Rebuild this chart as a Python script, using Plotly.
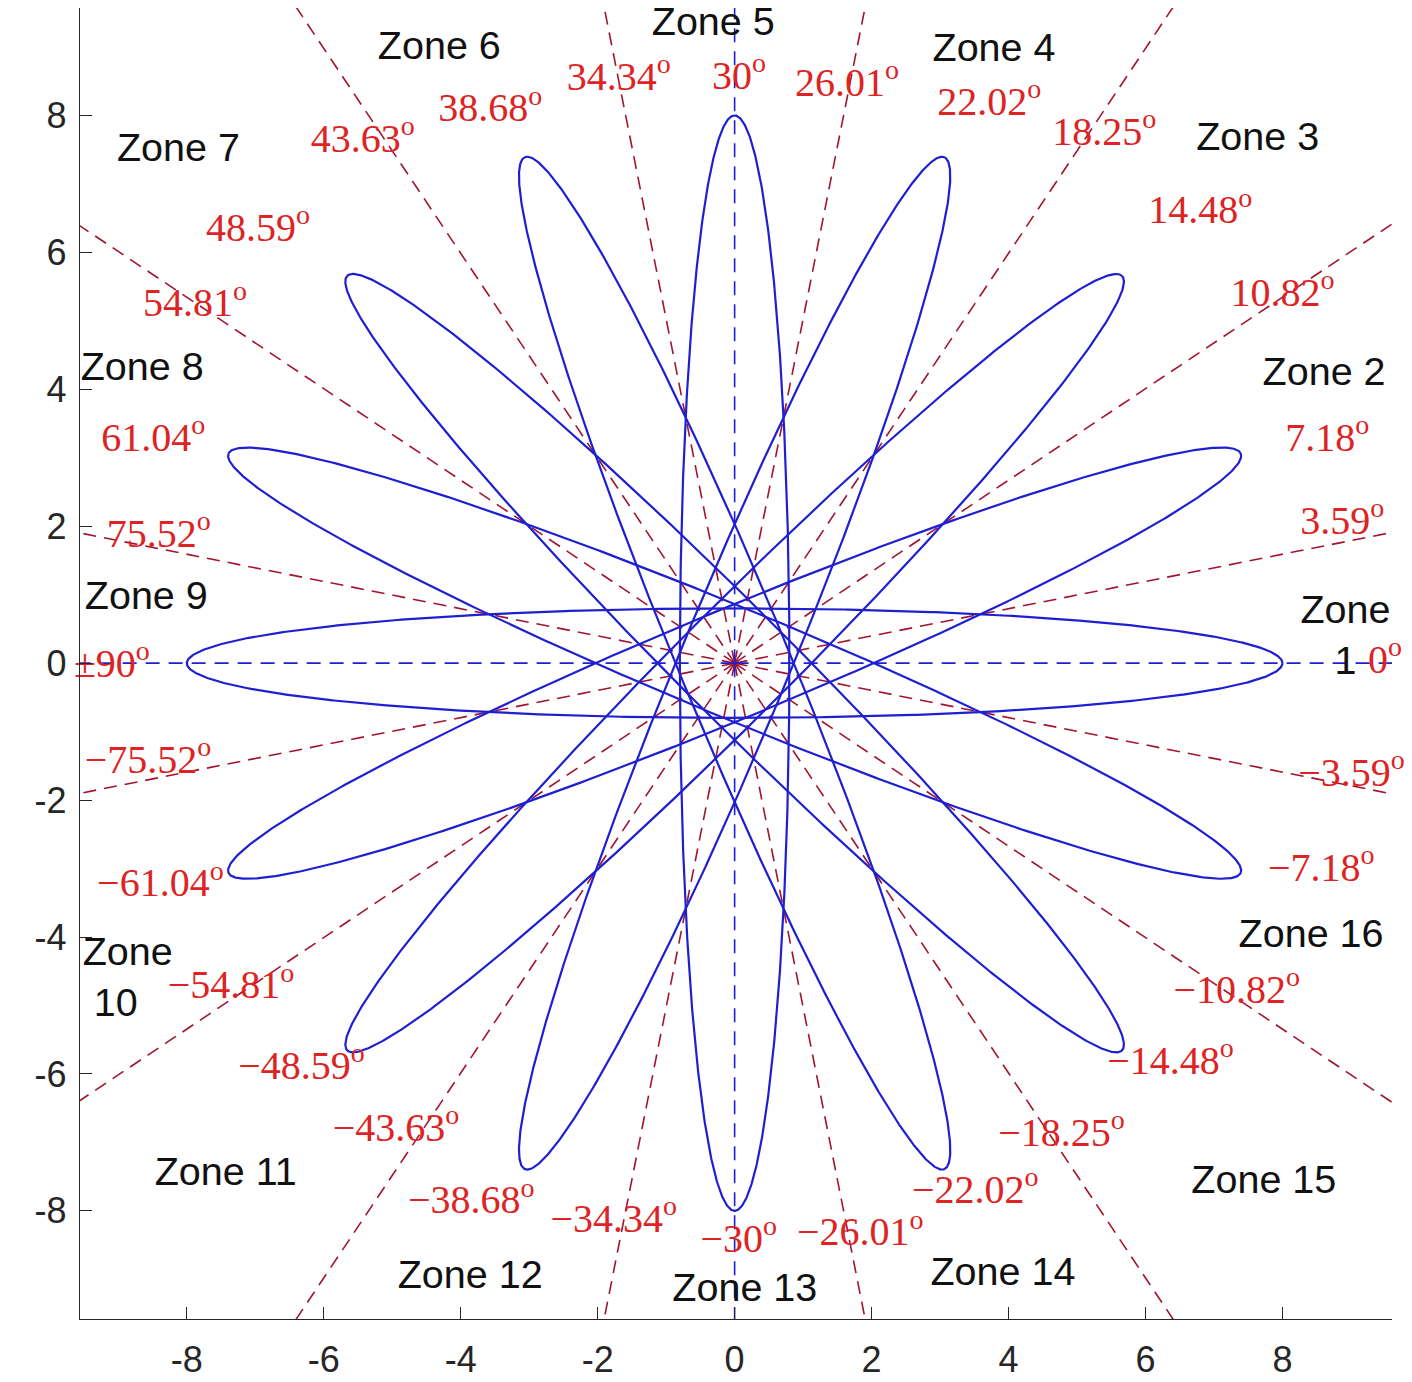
import numpy as np
import plotly.graph_objects as go

# ---------------- data ----------------
ellipse_semi_major = 8.0
ellipse_semi_minor = 0.8
ellipse_angles_deg = [0, 22.5, 45, 67.5, 90, 112.5, 135, 157.5]

boundary_angles_deg = [11.25, 33.75, 56.25, 78.75, 101.25, 123.75, 146.25, 168.75,
                       191.25, 213.75, 236.25, 258.75, 281.25, 303.75, 326.25, 348.75]
axis_ray_angles_deg = [0, 90, 180, 270]
ray_length = 14

zone_text = ["Zone 5", "Zone 4", "Zone 3", "Zone 2", "Zone<br>1", "Zone 16", "Zone 15", "Zone 14",
             "Zone 13", "Zone 12", "Zone 11", "Zone<br>\u00a010", "Zone 9", "Zone 8", "Zone 7", "Zone 6"]
zone_x = [-1.21, 2.89, 6.74, 7.71, 8.92, 7.36, 6.67, 2.86, -0.91, -4.92, -8.47, -9.52, -9.49, -9.55, -9.02, -5.21]
zone_y = [9.32, 8.94, 7.64, 4.21, 0.36, -4.00, -7.60, -8.94, -9.18, -8.99, -7.48, -4.64, 0.93, 4.28, 7.48, 8.97]
zone_pos = ["middle right"] * 4 + ["middle center"] + ["middle right"] * 11

angle_text = ["0", "3.59", "7.18", "10.82", "14.48", "18.25", "22.02", "26.01", "30", "34.34",
              "38.68", "43.63", "48.59", "54.81", "61.04", "75.52", "\u00b190",
              "\u22123.59", "\u22127.18", "\u221210.82", "\u221214.48", "\u221218.25", "\u221222.02",
              "\u221226.01", "\u221230", "\u221234.34", "\u221238.68", "\u221243.63", "\u221248.59",
              "\u221254.81", "\u221261.04", "\u221275.52"]
angle_x = [9.25, 8.26, 8.04, 7.24, 6.04, 4.64, 2.96, 0.88, -0.33, -2.45,
           -4.33, -6.19, -7.72, -8.64, -9.25, -9.17, -8.54,
           8.23, 7.79, 6.41, 5.44, 3.85, 2.59,
           0.91, -0.50, -2.69, -4.77, -5.87, -7.25,
           -8.28, -9.31, -9.49]
angle_y = [0.00, 2.04, 3.25, 5.36, 6.57, 7.72, 8.16, 8.43, 8.54, 8.52,
           8.06, 7.62, 6.31, 5.21, 3.25, 1.85, -0.05,
           -1.65, -3.04, -4.82, -5.85, -6.90, -7.74,
           -8.36, -8.45, -8.16, -7.89, -6.83, -5.93,
           -4.75, -3.26, -1.46]
angle_pos = ["middle right"] * 16 + ["middle left"] + ["middle right"] * 15

tick_values = [-8, -6, -4, -2, 0, 2, 4, 6, 8]
tick_labels = ["-8", "-6", "-4", "-2", "0", "2", "4", "6", "8"]

# ---------------- styles ----------------
BLUE = "#1f1fd2"
DARKRED = "#A2142F"
LABEL_RED = "#dd2323"
AXIS = "#262626"

fig = go.Figure()

# red dashed zone boundary rays
for a in boundary_angles_deg:
    th = np.deg2rad(a)
    fig.add_trace(go.Scatter(x=[0, ray_length * np.cos(th)], y=[0, ray_length * np.sin(th)],
                             mode="lines", line=dict(color=DARKRED, width=1.6, dash="13px,8px"),
                             hoverinfo="skip"))

# blue dashed axis rays
for a in axis_ray_angles_deg:
    th = np.deg2rad(a)
    fig.add_trace(go.Scatter(x=[0, ray_length * np.cos(th)], y=[0, ray_length * np.sin(th)],
                             mode="lines", line=dict(color=BLUE, width=1.6, dash="14px,9px"),
                             hoverinfo="skip"))

# petals (rotated ellipses)
t = np.linspace(0, 2 * np.pi, 721)
for a in ellipse_angles_deg:
    th = np.deg2rad(a)
    ex = ellipse_semi_major * np.cos(t)
    ey = ellipse_semi_minor * np.sin(t)
    fig.add_trace(go.Scatter(x=ex * np.cos(th) - ey * np.sin(th),
                             y=ex * np.sin(th) + ey * np.cos(th),
                             mode="lines", line=dict(color=BLUE, width=2.2), hoverinfo="skip"))

# zone labels
fig.add_trace(go.Scatter(x=zone_x, y=zone_y, mode="text", text=zone_text, textposition=zone_pos,
                         textfont=dict(family="Liberation Sans, Arial, sans-serif", size=39.5, color="#111111"),
                         cliponaxis=False, hoverinfo="skip"))

# angle labels
fig.add_trace(go.Scatter(x=angle_x, y=angle_y, mode="text",
                         text=[s + "<sup>o</sup>" for s in angle_text], textposition=angle_pos,
                         textfont=dict(family="Liberation Serif, DejaVu Serif, serif", size=40, color=LABEL_RED),
                         cliponaxis=False, hoverinfo="skip"))

axis_common = dict(showgrid=False, zeroline=False, showline=True, linecolor=AXIS, linewidth=1.4,
                   ticks="inside", ticklen=12, tickwidth=1.4, tickcolor=AXIS,
                   tickvals=tick_values, ticktext=tick_labels,
                   tickfont=dict(family="Liberation Sans, Arial, sans-serif", size=36, color=AXIS),
                   mirror=False, automargin=False)

fig.update_layout(
    width=1412, height=1382,
    margin=dict(l=80, r=20, t=8, b=63),
    plot_bgcolor="white", paper_bgcolor="white",
    showlegend=False,
    xaxis=dict(range=[-9.56, 9.60], ticklabelstandoff=9, **axis_common),
    yaxis=dict(range=[-9.58, 9.57], ticklabelstandoff=5, **axis_common),
)

fig.write_html("out.html", config={"displayModeBar": False},
               post_script="document.body.style.margin='0';")
